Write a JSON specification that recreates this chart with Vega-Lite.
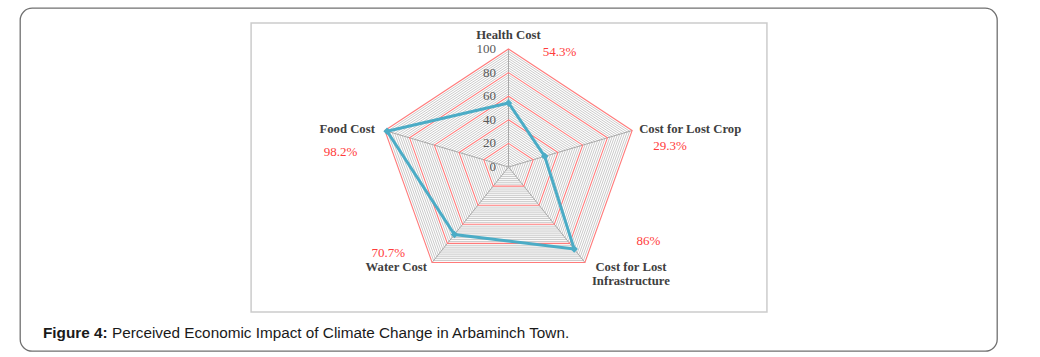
{
  "$schema": "https://vega.github.io/schema/vega-lite/v6.json",
  "width": 977,
  "height": 343,
  "padding": {"left": 20, "top": 8, "right": 43, "bottom": 6},
  "autosize": {"type": "none"},
  "background": "white",
  "config": {
    "view": {"stroke": "#707070", "strokeWidth": 1.3, "cornerRadius": 12},
    "style": {
      "catlabel": {"font": "Liberation Serif", "fontSize": 12.7, "fontWeight": "bold"},
      "pctlabel": {"font": "Liberation Serif", "fontSize": 13}
    }
  },
  "datasets": {
    "axes": [
      {"i": 0, "cat": "Health Cost", "value": 54.3},
      {"i": 1, "cat": "Cost for Lost Crop", "value": 29.3},
      {"i": 2, "cat": "Cost for Lost\nInfrastructure", "value": 86},
      {"i": 3, "cat": "Water Cost", "value": 70.7},
      {"i": 4, "cat": "Food Cost", "value": 98.2}
    ],
    "levels": [
      {"level": 0, "v": [0,1,2,3,4]}, {"level": 2, "v": [0,1,2,3,4]}, {"level": 4, "v": [0,1,2,3,4]},
      {"level": 6, "v": [0,1,2,3,4]}, {"level": 8, "v": [0,1,2,3,4]}, {"level": 10, "v": [0,1,2,3,4]},
      {"level": 12, "v": [0,1,2,3,4]}, {"level": 14, "v": [0,1,2,3,4]}, {"level": 16, "v": [0,1,2,3,4]},
      {"level": 18, "v": [0,1,2,3,4]}, {"level": 20, "v": [0,1,2,3,4]}, {"level": 22, "v": [0,1,2,3,4]},
      {"level": 24, "v": [0,1,2,3,4]}, {"level": 26, "v": [0,1,2,3,4]}, {"level": 28, "v": [0,1,2,3,4]},
      {"level": 30, "v": [0,1,2,3,4]}, {"level": 32, "v": [0,1,2,3,4]}, {"level": 34, "v": [0,1,2,3,4]},
      {"level": 36, "v": [0,1,2,3,4]}, {"level": 38, "v": [0,1,2,3,4]}, {"level": 40, "v": [0,1,2,3,4]},
      {"level": 42, "v": [0,1,2,3,4]}, {"level": 44, "v": [0,1,2,3,4]}, {"level": 46, "v": [0,1,2,3,4]},
      {"level": 48, "v": [0,1,2,3,4]}, {"level": 50, "v": [0,1,2,3,4]}, {"level": 52, "v": [0,1,2,3,4]},
      {"level": 54, "v": [0,1,2,3,4]}, {"level": 56, "v": [0,1,2,3,4]}, {"level": 58, "v": [0,1,2,3,4]},
      {"level": 60, "v": [0,1,2,3,4]}, {"level": 62, "v": [0,1,2,3,4]}, {"level": 64, "v": [0,1,2,3,4]},
      {"level": 66, "v": [0,1,2,3,4]}, {"level": 68, "v": [0,1,2,3,4]}, {"level": 70, "v": [0,1,2,3,4]},
      {"level": 72, "v": [0,1,2,3,4]}, {"level": 74, "v": [0,1,2,3,4]}, {"level": 76, "v": [0,1,2,3,4]},
      {"level": 78, "v": [0,1,2,3,4]}, {"level": 80, "v": [0,1,2,3,4]}, {"level": 82, "v": [0,1,2,3,4]},
      {"level": 84, "v": [0,1,2,3,4]}, {"level": 86, "v": [0,1,2,3,4]}, {"level": 88, "v": [0,1,2,3,4]},
      {"level": 90, "v": [0,1,2,3,4]}, {"level": 92, "v": [0,1,2,3,4]}, {"level": 94, "v": [0,1,2,3,4]},
      {"level": 96, "v": [0,1,2,3,4]}, {"level": 98, "v": [0,1,2,3,4]}, {"level": 100, "v": [0,1,2,3,4]}
    ],
    "frame": [{"part": "plot area"}]
  },
  "encoding": {
    "x": {"field": "x", "type": "quantitative", "scale": {"domain": [-375.77, 375.77], "nice": false, "zero": false}, "axis": null},
    "y": {"field": "y", "type": "quantitative", "scale": {"domain": [-155.93, 134.75], "nice": false, "zero": false}, "axis": null}
  },
  "layer": [
    {
      "data": {"name": "levels"},
      "transform": [
        {"filter": "datum.level > 0 && datum.level % 20 != 0"},
        {"flatten": ["v"]},
        {"calculate": "datum.level*sin(datum.v*2*PI/5)", "as": "x"},
        {"calculate": "datum.level*cos(datum.v*2*PI/5)", "as": "y"}
      ],
      "mark": {"type": "line", "interpolate": "linear-closed", "color": "#bdbdbd", "strokeWidth": 0.8},
      "encoding": {"detail": {"field": "level", "type": "nominal"}, "order": {"field": "v", "type": "quantitative"}}
    },
    {
      "data": {"name": "axes"},
      "transform": [
        {"calculate": "0", "as": "x"},
        {"calculate": "0", "as": "y"},
        {"calculate": "100*sin(datum.i*2*PI/5)", "as": "x2"},
        {"calculate": "100*cos(datum.i*2*PI/5)", "as": "y2"}
      ],
      "mark": {"type": "rule", "color": "#a0a0a0", "strokeWidth": 0.9},
      "encoding": {"x2": {"field": "x2"}, "y2": {"field": "y2"}}
    },
    {
      "data": {"name": "levels"},
      "transform": [
        {"filter": "datum.level > 0 && datum.level % 20 == 0"},
        {"flatten": ["v"]},
        {"calculate": "datum.level*sin(datum.v*2*PI/5)", "as": "x"},
        {"calculate": "datum.level*cos(datum.v*2*PI/5)", "as": "y"}
      ],
      "mark": {"type": "line", "interpolate": "linear-closed", "color": "#ff7a7a", "strokeWidth": 1.1},
      "encoding": {"detail": {"field": "level", "type": "nominal"}, "order": {"field": "v", "type": "quantitative"}}
    },
    {
      "data": {"name": "axes"},
      "transform": [
        {"calculate": "datum.value*sin(datum.i*2*PI/5)", "as": "x"},
        {"calculate": "datum.value*cos(datum.i*2*PI/5)", "as": "y"}
      ],
      "layer": [
        {
          "mark": {"type": "line", "interpolate": "linear-closed", "color": "#4bacc6", "strokeWidth": 3},
          "encoding": {"order": {"field": "i", "type": "quantitative"}}
        },
        {
          "mark": {"type": "point", "shape": "diamond", "filled": true, "opacity": 1, "color": "#4bacc6", "size": 55}
        }
      ]
    },
    {
      "data": {"name": "levels"},
      "transform": [
        {"filter": "datum.level % 20 == 0"},
        {"calculate": "0", "as": "x"},
        {"calculate": "datum.level", "as": "y"}
      ],
      "mark": {"type": "text", "align": "right", "baseline": "middle", "dx": -12.5, "font": "Liberation Serif", "fontSize": 13, "color": "#595959"},
      "encoding": {"text": {"field": "level", "type": "quantitative"}}
    },
    {
      "data": {"name": "axes"},
      "transform": [
        {"calculate": "100*sin(datum.i*2*PI/5)", "as": "x"},
        {"calculate": "100*cos(datum.i*2*PI/5)", "as": "y"},
        {"calculate": "datum.value + '%'", "as": "pct"}
      ],
      "layer": [
        {"transform": [{"filter": "datum.i == 0"}], "mark": {"type": "text", "style": "catlabel", "color": "#404040", "align": "center", "baseline": "middle", "dx": 0, "dy": -14}, "encoding": {"text": {"field": "cat"}}},
        {"transform": [{"filter": "datum.i == 1"}], "mark": {"type": "text", "style": "catlabel", "color": "#404040", "align": "left", "baseline": "middle", "dx": 7, "dy": -1.5}, "encoding": {"text": {"field": "cat"}}},
        {"transform": [{"filter": "datum.i == 2"}], "mark": {"type": "text", "style": "catlabel", "color": "#404040", "align": "center", "baseline": "middle", "lineBreak": "\n", "lineHeight": 14.3, "dx": 46, "dy": 4.7}, "encoding": {"text": {"field": "cat"}}},
        {"transform": [{"filter": "datum.i == 3"}], "mark": {"type": "text", "style": "catlabel", "color": "#404040", "align": "center", "baseline": "middle", "dx": -35.8, "dy": 4.8}, "encoding": {"text": {"field": "cat"}}},
        {"transform": [{"filter": "datum.i == 4"}], "mark": {"type": "text", "style": "catlabel", "color": "#404040", "align": "right", "baseline": "middle", "dx": -10, "dy": -1.5}, "encoding": {"text": {"field": "cat"}}},
        {"transform": [{"filter": "datum.i == 0"}], "mark": {"type": "text", "style": "pctlabel", "color": "#ff3c3c", "align": "center", "baseline": "middle", "dx": 51, "dy": 3.3}, "encoding": {"text": {"field": "pct"}}},
        {"transform": [{"filter": "datum.i == 1"}], "mark": {"type": "text", "style": "pctlabel", "color": "#ff3c3c", "align": "center", "baseline": "middle", "dx": 38, "dy": 15.5}, "encoding": {"text": {"field": "pct"}}},
        {"transform": [{"filter": "datum.i == 2"}], "mark": {"type": "text", "style": "pctlabel", "color": "#ff3c3c", "align": "center", "baseline": "middle", "dx": 63.4, "dy": -21.5}, "encoding": {"text": {"field": "pct"}}},
        {"transform": [{"filter": "datum.i == 3"}], "mark": {"type": "text", "style": "pctlabel", "color": "#ff3c3c", "align": "center", "baseline": "middle", "dx": -43.8, "dy": -9.2}, "encoding": {"text": {"field": "pct"}}},
        {"transform": [{"filter": "datum.i == 4"}], "mark": {"type": "text", "style": "pctlabel", "color": "#ff3c3c", "align": "center", "baseline": "middle", "dx": -44.4, "dy": 21.2}, "encoding": {"text": {"field": "pct"}}}
      ]
    },
    {
      "data": {"name": "frame"},
      "transform": [
        {"calculate": "-198", "as": "x"},
        {"calculate": "198.8", "as": "x2"},
        {"calculate": "122", "as": "y"},
        {"calculate": "-122.9", "as": "y2"}
      ],
      "mark": {"type": "rect", "fill": "transparent", "stroke": "#cccccc", "strokeWidth": 1.5},
      "encoding": {
        "x2": {"field": "x2"},
        "y2": {"field": "y2"}
      }
    },
    {
      "data": {"name": "frame"},
      "transform": [
        {"calculate": "-358.1", "as": "x"},
        {"calculate": "-140.7", "as": "y"},
        {"calculate": "-305", "as": "xb"}
      ],
      "layer": [
        {
          "mark": {"type": "text", "text": "Figure 4:", "align": "left", "baseline": "middle", "font": "Liberation Sans", "fontSize": 15.3, "fontWeight": "bold", "color": "#1a1a1a"}
        },
        {
          "mark": {"type": "text", "text": "Perceived Economic Impact of Climate Change in Arbaminch Town.", "align": "left", "baseline": "middle", "font": "Liberation Sans", "fontSize": 15.3, "color": "#1a1a1a"},
          "encoding": {"x": {"field": "xb", "type": "quantitative"}}
        }
      ]
    }
  ]
}
